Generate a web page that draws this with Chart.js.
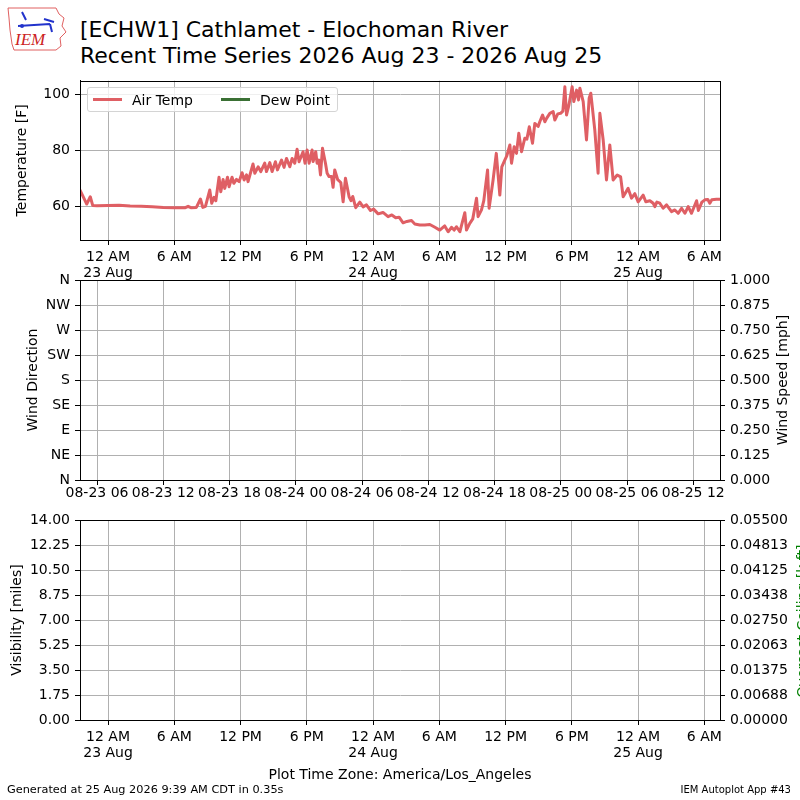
<!DOCTYPE html>
<html>
<head>
<meta charset="utf-8">
<title>ECHW1 Recent Time Series</title>
<script src="https://cdn.jsdelivr.net/npm/chart.js@4.4.1/dist/chart.umd.min.js"></script>
<style>
  html, body { margin: 0; padding: 0; width: 800px; height: 800px; overflow: hidden; background: #fff; }
  body { position: relative; font-family: 'DejaVu Sans', sans-serif; color: #000; }
  canvas { position: absolute; left: 0; }
  #title { position: absolute; left: 80px; top: 17px; font-size: 22px; line-height: 26px; white-space: nowrap; }
  #legend { position: absolute; left: 87px; top: 87px; width: 244px; height: 23px; border: 1px solid #d4d4d4;
            border-radius: 3px; background: rgba(255,255,255,0.8); display: flex; align-items: center;
            font-size: 14px; padding-left: 5px; box-sizing: content-box; white-space: nowrap; }
  #legend .item { display: flex; align-items: center; margin-right: 28px; white-space: nowrap; }
  #legend .swatch { width: 29px; height: 3px; margin-right: 10px; flex: none; }
  .rtitle { position: absolute; font-size: 14px; line-height: 16px; white-space: nowrap;
            transform: translate(-50%, -50%) rotate(-90deg); }
  #tz { position: absolute; left: 0; width: 800px; top: 766px; text-align: center; font-size: 14px; line-height: 16px; }
  .foot { position: absolute; white-space: nowrap; }
  #logo { position: absolute; left: 6px; top: 6px; }
</style>
</head>
<body>
<svg id="logo" width="62" height="46" viewBox="0 0 62 46">
  <path d="M2 2 L50 2 L53 8 L58 12 L56 20 L60 26 L54 32 L55 40 L50 44 L8 44 L6 38 L4 24 L3 12 Z" fill="none" stroke="#e06060" stroke-width="1"/>
  <path d="M16 6 L20 14 M12 20 L44 18 M38 13 L48 16 M44 18 L46 26" stroke="#2233cc" stroke-width="2" fill="none"/>
  <circle cx="16" cy="20" r="2" fill="#2233cc"/>
  <text x="9" y="39" font-family="Liberation Serif, serif" font-style="italic" font-size="17" fill="#cc2222">IEM</text>
</svg>
<div id="title">[ECHW1] Cathlamet - Elochoman River<br>Recent Time Series 2026 Aug 23 - 2026 Aug 25</div>

<canvas id="tempChart" width="800" height="210" style="top:70px"></canvas>
<canvas id="windChart" width="800" height="240" style="top:270px"></canvas>
<canvas id="visChart" width="800" height="260" style="top:510px"></canvas>
<div id="legend"></div>
<div class="rtitle" style="left:782px; top:380px">Wind Speed [mph]</div>
<div class="rtitle" style="left:802px; top:621px; color:#008000">Overcast Ceiling [k ft]</div>

<div id="tz">Plot Time Zone: America/Los_Angeles</div>
<div class="foot" style="left:7px; top:783px; font-size:11.3px; line-height:13px">Generated at 25 Aug 2026 9:39 AM CDT in 0.35s</div>
<div class="foot" style="right:9px; top:784px; font-size:10px; line-height:12px">IEM Autoplot App #43</div>

<script>
// hours since 12 AM 23 Aug (local time)
const timeMin = -2.54;
const timeMax = 55.42;

const tempHours = [
  -2.54, -1.93, -1.61, -1.39, -1.0, 0, 1, 2, 3, 4, 5, 6, 7, 7.25, 7.5, 8.0,
  8.37, 8.58, 8.82, 9.21, 9.39, 9.6, 9.76, 10.05, 10.21, 10.42, 10.57, 10.82, 10.96,
  11.23, 11.39, 11.63, 11.87, 12.14, 12.32, 12.54, 12.68, 13.13, 13.29, 13.59, 13.83,
  14.19, 14.35, 14.65, 14.86, 15.16, 15.34, 15.71, 15.94, 16.16, 16.46, 16.67, 16.91,
  17.12, 17.3, 17.66, 17.84, 18.03, 18.21, 18.48, 18.57, 18.81, 18.93, 19.09, 19.24,
  19.42, 19.69, 19.84, 20.02, 20.24, 20.38, 20.53, 20.8, 21.08, 21.29, 21.5, 21.83,
  22.0, 22.16, 22.43, 22.8, 23.1, 23.4, 23.77, 24.05, 24.46, 24.9, 25.36, 25.7,
  26.05, 26.36, 26.72, 27.06, 27.48, 27.78, 28.23, 28.69, 29.14, 29.6, 30.04, 30.49,
  30.8, 31.1, 31.34, 31.56, 31.86, 32.31, 32.46, 32.76, 33.03, 33.37, 33.51, 33.82,
  34.03, 34.37, 34.51, 34.87, 35.16, 35.48, 35.66, 35.93, 36.11, 36.39, 36.54, 36.78,
  36.99, 37.2, 37.45, 37.74, 37.93, 38.15, 38.44, 38.65, 38.95, 39.1, 39.35, 39.56,
  39.73, 40.01, 40.31, 40.46, 40.73, 40.98, 41.19, 41.37, 41.52, 41.73, 42.03, 42.18,
  42.43, 42.61, 42.73, 43.03, 43.33, 43.57, 43.72, 44.08, 44.38, 44.54, 44.84, 45.14,
  45.44, 45.74, 46.11, 46.42, 46.65, 47.1, 47.41, 47.71, 48.01, 48.46, 48.7, 49.07,
  49.37, 49.52, 49.7, 49.97, 50.27, 50.58, 51.03, 51.33, 51.63, 51.94, 52.24, 52.54,
  52.84, 53.3, 53.46, 53.78, 54.05, 54.32, 54.5, 54.68, 55.1, 55.42
];
const airTemp = [
  65.8, 60.8, 63.4, 60.3, 60.2, 60.3, 60.4, 60.1, 60.0, 59.8, 59.6, 59.5, 59.5, 60.0, 59.5, 59.6,
  62.6, 59.6, 60.0, 65.8, 61.1, 63.2, 62.0, 70.4, 65.2, 69.6, 66.4, 70.4, 67.0,
  70.4, 68.2, 69.6, 68.8, 72.0, 69.4, 71.2, 68.8, 75.1, 71.8, 74.1, 72.4,
  75.4, 72.4, 75.6, 72.4, 75.9, 73.0, 76.5, 73.9, 77.1, 74.1, 77.1, 75.4,
  80.4, 75.9, 79.5, 75.4, 80.1, 75.4, 80.1, 76.0, 79.5, 75.4, 76.5, 71.2,
  80.7, 75.4, 71.8, 70.6, 70.6, 66.8, 73.0, 69.5, 68.5, 61.6, 70.0, 63.4,
  62.0, 63.5, 59.5, 61.5, 59.8, 60.5, 58.5, 59.0, 57.3, 57.8, 56.3, 56.9,
  55.9, 56.1, 54.1, 54.6, 54.9, 53.7, 53.3, 53.3, 53.5, 52.5, 51.5, 53.0,
  50.9, 52.5, 51.5, 52.7, 50.9, 57.7, 51.5, 53.9, 55.5, 62.9, 56.3, 58.7,
  62.0, 73.0, 59.3, 69.4, 78.9, 64.0, 74.1, 76.5, 78.0, 81.9, 75.4, 81.3,
  78.9, 86.1, 79.5, 84.3, 84.0, 88.4, 82.5, 89.6, 88.5, 90.2, 92.6, 90.2,
  91.5, 93.2, 93.8, 90.8, 93.0, 93.2, 94.0, 102.7, 92.6, 96.0, 102.7, 97.4,
  101.5, 98.0, 102.2, 97.4, 83.7, 98.6, 100.4, 87.3, 71.8, 93.2, 83.7, 69.4,
  81.9, 69.4, 71.2, 70.5, 63.4, 66.4, 62.9, 64.5, 61.6, 64.0, 61.6, 62.0,
  61.1, 59.9, 61.5, 61.1, 59.3, 60.5, 58.1, 58.7, 57.5, 59.3, 57.5, 59.9,
  57.5, 62.0, 58.5, 61.5, 62.3, 62.4, 61.1, 62.3, 62.5, 62.5
];
const dewPoint = [];

const tempMin = 47.96;
const tempMax = 104.86;
const tempTicks = [60, 80, 100];

const timeTickHours = [0, 6, 12, 18, 24, 30, 36, 42, 48, 54];
const timeTickLabels = [['12 AM', '23 Aug'], '6 AM', '12 PM', '6 PM', ['12 AM', '24 Aug'],
  '6 AM', '12 PM', '6 PM', ['12 AM', '25 Aug'], '6 AM'];

// UTC labelled ticks of the wind panel, in the same local-hour units
const utcTickHours = [-1, 5, 11, 17, 23, 29, 35, 41, 47, 53];
const utcTickLabels = ['08-23 06', '08-23 12', '08-23 18', '08-24 00', '08-24 06',
  '08-24 12', '08-24 18', '08-25 00', '08-25 06', '08-25 12'];

const dirTicks = [0, 45, 90, 135, 180, 225, 270, 315, 360];
const dirTickLabels = ['N', 'NE', 'E', 'SE', 'S', 'SW', 'W', 'NW', 'N'];
const windSpeedTicks = [0, 0.125, 0.25, 0.375, 0.5, 0.625, 0.75, 0.875, 1.0];

const visTicks = [0, 1.75, 3.5, 5.25, 7, 8.75, 10.5, 12.25, 14];
const ceilTicks = [0, 0.006875, 0.01375, 0.020625, 0.0275, 0.034375, 0.04125, 0.048125, 0.055];
const ceilTickLabels = ['0.00000', '0.00688', '0.01375', '0.02063', '0.02750',
  '0.03438', '0.04125', '0.04813', '0.05500'];

Chart.defaults.font.family = "'DejaVu Sans', sans-serif";
Chart.defaults.font.size = 14;
Chart.defaults.color = '#000';

const GRID = '#b0b0b0';

// black box round the plotting area, like matplotlib spines
const framePlugin = {
  id: 'frame',
  afterDraw(chart) {
    const a = chart.chartArea;
    const ctx = chart.ctx;
    const l = Math.round(a.left) + 0.5, t = Math.round(a.top) + 0.5;
    const r = Math.round(a.right) + 0.5, b = Math.round(a.bottom) + 0.5;
    ctx.save();
    ctx.strokeStyle = '#000';
    ctx.lineWidth = 1;
    ctx.strokeRect(l, t, r - l, b - t);
    ctx.restore();
  }
};

function setTicks(values) {
  return function(scale) {
    scale.ticks = values.map(v => ({ value: v }));
  };
}

// fixed axis width, and no extra label padding so the plot area sits where the layout puts it
function fixWidth(w) {
  return function(scale) {
    scale.width = w;
    scale.paddingTop = 0;
    scale.paddingBottom = 0;
  };
}

function gridOpts(onChart) {
  return { color: GRID, lineWidth: 1, tickLength: 5, tickColor: '#000', drawOnChartArea: onChart };
}

function timeAxis(tickHours, tickLabels, height, pad) {
  return {
    type: 'linear',
    min: timeMin,
    max: timeMax,
    afterBuildTicks: setTicks(tickHours),
    afterFit: s => { s.height = height; },
    ticks: {
      autoSkip: false,
      maxRotation: 0,
      padding: pad,
      font: { lineHeight: 1.16 },
      callback: (v, i) => tickLabels[i]
    },
    grid: gridOpts(true),
    border: { color: '#000' }
  };
}

// Temperature panel
const tempChart = new Chart(document.getElementById('tempChart'), {
  type: 'line',
  data: {
    datasets: [
      {
        label: 'Air Temp',
        data: tempHours.map((h, i) => ({ x: h, y: airTemp[i] })),
        borderColor: '#df5f64',
        backgroundColor: '#df5f64',
        borderWidth: 3,
        borderJoinStyle: 'round',
        borderCapStyle: 'round',
        pointRadius: 0,
        tension: 0
      },
      {
        label: 'Dew Point',
        data: dewPoint,
        borderColor: '#3a7034',
        backgroundColor: '#3a7034',
        borderWidth: 3,
        pointRadius: 0
      }
    ]
  },
  options: {
    responsive: false,
    animation: false,
    layout: { padding: { top: 10.7, right: 80, left: 0, bottom: 0 } },
    plugins: { legend: { display: false }, tooltip: { enabled: false } },
    scales: {
      x: timeAxis(timeTickHours, timeTickLabels, 40, 4),
      y: {
        min: tempMin,
        max: tempMax,
        afterBuildTicks: setTicks(tempTicks),
        afterFit: fixWidth(80),
        ticks: { padding: 5 },
        grid: gridOpts(true),
        border: { color: '#000' },
        title: { display: true, text: 'Temperature [F]', padding: { top: 13.6, bottom: 0 } }
      }
    }
  },
  plugins: [framePlugin]
});

// legend inside the temperature panel, built from the datasets
const legendBox = document.getElementById('legend');
tempChart.data.datasets.forEach(ds => {
  const item = document.createElement('div');
  item.className = 'item';
  const sw = document.createElement('span');
  sw.className = 'swatch';
  sw.style.background = ds.borderColor;
  const txt = document.createElement('span');
  txt.textContent = ds.label;
  item.appendChild(sw);
  item.appendChild(txt);
  legendBox.appendChild(item);
});

// Wind panel (no observations)
new Chart(document.getElementById('windChart'), {
  type: 'line',
  data: { datasets: [] },
  options: {
    responsive: false,
    animation: false,
    layout: { padding: { top: 10, right: 0, left: 0, bottom: 0 } },
    plugins: { legend: { display: false }, tooltip: { enabled: false } },
    scales: {
      x: timeAxis(utcTickHours, utcTickLabels, 30, 0),
      y: {
        position: 'left',
        min: 0,
        max: 360,
        afterBuildTicks: setTicks(dirTicks),
        afterFit: fixWidth(80),
        ticks: { padding: 5, callback: (v, i) => dirTickLabels[i] },
        grid: gridOpts(true),
        border: { color: '#000' },
        title: { display: true, text: 'Wind Direction', padding: { top: 24.6, bottom: 0 } }
      },
      y2: {
        position: 'right',
        min: 0,
        max: 1,
        afterBuildTicks: setTicks(windSpeedTicks),
        afterFit: fixWidth(80),
        ticks: { padding: 5, callback: v => v.toFixed(3) },
        grid: gridOpts(false),
        border: { color: '#000' }
      }
    }
  },
  plugins: [framePlugin]
});

// Visibility / ceiling panel (no observations)
new Chart(document.getElementById('visChart'), {
  type: 'line',
  data: { datasets: [] },
  options: {
    responsive: false,
    animation: false,
    layout: { padding: { top: 10, right: 0, left: 0, bottom: 0 } },
    plugins: { legend: { display: false }, tooltip: { enabled: false } },
    scales: {
      x: timeAxis(timeTickHours, timeTickLabels, 50, 4),
      y: {
        position: 'left',
        min: 0,
        max: 14,
        afterBuildTicks: setTicks(visTicks),
        afterFit: fixWidth(80),
        ticks: { padding: 5, callback: v => v.toFixed(2) },
        grid: gridOpts(true),
        border: { color: '#000' },
        title: { display: true, text: 'Visibility [miles]', padding: { top: 8.6, bottom: 0 } }
      },
      y2: {
        position: 'right',
        min: 0,
        max: 0.055,
        afterBuildTicks: setTicks(ceilTicks),
        afterFit: fixWidth(80),
        ticks: { padding: 5, callback: (v, i) => ceilTickLabels[i] },
        grid: gridOpts(false),
        border: { color: '#000' }
      }
    }
  },
  plugins: [framePlugin]
});
</script>
</body>
</html>
